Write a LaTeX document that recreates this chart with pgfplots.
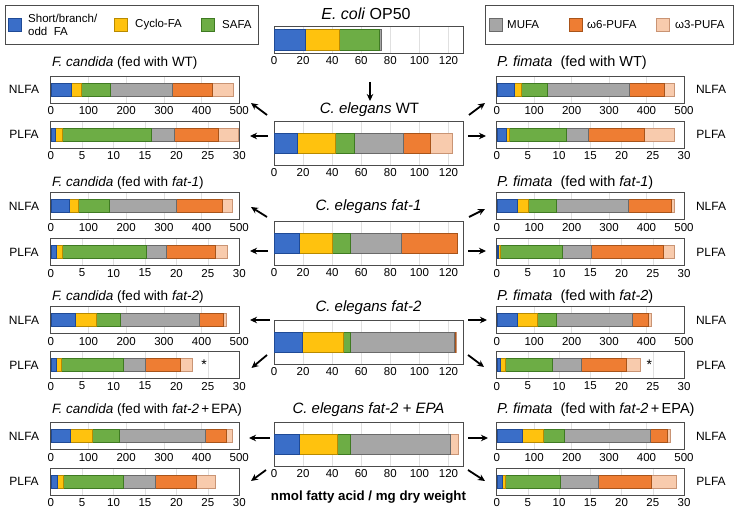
\documentclass[border=0pt]{standalone}
\usepackage{fontspec}
\setmainfont{Liberation Sans}
\usepackage{pgfplots}
\pgfplotsset{compat=1.18}
\usetikzlibrary{arrows.meta}
\definecolor{cB}{HTML}{3A6EC8}
\definecolor{cBd}{HTML}{1F4A96}
\definecolor{cY}{HTML}{FFC20E}
\definecolor{cYd}{HTML}{B88A00}
\definecolor{cG}{HTML}{6DAD45}
\definecolor{cGd}{HTML}{3F7A22}
\definecolor{cM}{HTML}{A6A6A6}
\definecolor{cMd}{HTML}{6A6A6A}
\definecolor{cO}{HTML}{EE7D33}
\definecolor{cOd}{HTML}{A8541A}
\definecolor{cP}{HTML}{F8CBAD}
\definecolor{cPd}{HTML}{C99474}
\pgfplotscreateplotcyclelist{fa}{
 {fill=cB,draw=cBd},{fill=cY,draw=cYd},{fill=cG,draw=cGd},{fill=cM,draw=cMd},{fill=cO,draw=cOd},{fill=cP,draw=cPd}}
\pgfplotsset{
 fabase/.style={scale only axis, xbar stacked, anchor=north west,
   ymin=-0.5, ymax=0.5, ytick=\empty, xmin=0,
   cycle list name=fa,
   axis line style={draw=black!70,line width=0.8pt},
   xmajorgrids, grid style={black!12,line width=0.5pt},
   major tick length=0pt,
   tick label style={font=\fontsize{11.5}{13}\selectfont},
   /pgf/number format/assume math mode=true,
   clip=false},
 nl/.style={fabase,height=27pt,bar width=13pt,xmax=500,xtick={0,100,...,500}},
 pl/.style={fabase,height=27pt,bar width=13pt,xmax=30,xtick={0,5,...,30}},
 ce/.style={fabase,width=189pt,height=44pt,bar width=20pt,xmax=130,xtick={0,20,...,120}},
 L/.style={width=188.6pt},
 R/.style={width=187.3pt},
}
\tikzset{ar/.style={line width=1.8pt,-{Stealth[length=7pt,width=6.5pt]}},
 ttl/.style={font=\fontsize{15}{17}\selectfont,inner sep=0pt},
 ttlL/.style={font=\fontsize{13.5}{16}\selectfont,inner sep=0pt,anchor=west},
 ttlR/.style={font=\fontsize{14.5}{17}\selectfont,inner sep=0pt,anchor=west},
 lab/.style={font=\fontsize{12}{13}\selectfont,inner sep=0pt},
 leg/.style={font=\fontsize{11.5}{13}\selectfont,inner sep=0pt,anchor=west,align=left}}
\begin{document}
\begin{tikzpicture}[x=1pt,y=1pt]
\useasboundingbox (0,0) rectangle (737,-510);
% legends
\draw[black!70,line width=0.8pt] (5,-5) rectangle (258,-44);
\draw[cBd,fill=cB] (8,-18) rectangle (21,-31);
\node[leg] at (28,-24.5) {Short/branch/\\odd\ \ FA};
\draw[cYd,fill=cY] (114,-18) rectangle (127,-31);
\node[leg] at (135,-24.5) {Cyclo-FA};
\draw[cGd,fill=cG] (201,-18) rectangle (214,-31);
\node[leg] at (222,-24.5) {SAFA};
\draw[black!70,line width=0.8pt] (485,-5) rectangle (733,-44);
\draw[cMd,fill=cM] (489,-18) rectangle (502,-31);
\node[leg] at (507,-24.5) {MUFA};
\draw[cOd,fill=cO] (569,-18) rectangle (582,-31);
\node[leg] at (587,-24.5) {ω6-PUFA};
\draw[cPd,fill=cP] (656,-18) rectangle (669,-31);
\node[leg] at (675,-24.5) {ω3-PUFA};

% ---------- center column ----------
\node[ttl,font=\fontsize{16}{18}\selectfont] at (366,-14) {\textit{E. coli} OP50};
\begin{axis}[ce,height=27pt,bar width=21pt,at={(274pt,-26pt)}]
\addplot coordinates {(21.3,0)};
\addplot coordinates {(23.3,0)};
\addplot coordinates {(28.1,0)};
\addplot coordinates {(1.1,0)};
\addplot coordinates {(0,0)};
\addplot coordinates {(0,0)};
\end{axis}
\node[ttl] at (369.5,-110) {\textit{C. elegans} WT};
\begin{axis}[ce,at={(274pt,-121pt)}]
\addplot coordinates {(16.2,0)};
\addplot coordinates {(25.9,0)};
\addplot coordinates {(13.0,0)};
\addplot coordinates {(33.6,0)};
\addplot coordinates {(18.7,0)};
\addplot coordinates {(15.1,0)};
\end{axis}
\node[ttl] at (368.5,-207) {\textit{C. elegans fat-1}};
\begin{axis}[ce,at={(274pt,-221pt)}]
\addplot coordinates {(17.4,0)};
\addplot coordinates {(22.6,0)};
\addplot coordinates {(12.3,0)};
\addplot coordinates {(35.2,0)};
\addplot coordinates {(38.2,0)};
\addplot coordinates {(0.3,0)};
\end{axis}
\node[ttl] at (368.5,-308) {\textit{C. elegans fat-2}};
\begin{axis}[ce,at={(274pt,-320pt)}]
\addplot coordinates {(19.2,0)};
\addplot coordinates {(28.1,0)};
\addplot coordinates {(4.8,0)};
\addplot coordinates {(72.0,0)};
\addplot coordinates {(0.8,0)};
\addplot coordinates {(0.4,0)};
\end{axis}
\node[ttl] at (368.5,-410) {\textit{C. elegans fat-2 + EPA}};
\begin{axis}[ce,at={(274pt,-422pt)}]
\addplot coordinates {(17.4,0)};
\addplot coordinates {(25.8,0)};
\addplot coordinates {(9.0,0)};
\addplot coordinates {(68.7,0)};
\addplot coordinates {(0.3,0)};
\addplot coordinates {(5.2,0)};
\end{axis}
\node[font=\bfseries\fontsize{13.3}{15}\selectfont] at (368.5,-497) {nmol fatty acid / mg dry weight};

% ---------- row WT ----------
\node[ttlL] at (52,-63) {\textit{F. candida} (fed with WT)};
\node[ttlR] at (497,-63) {\textit{P. fimata}\ \ (fed with WT)};
\begin{axis}[nl,L,at={(50.7pt,-76pt)}]
\addplot coordinates {(55,0)};
\addplot coordinates {(26,0)};
\addplot coordinates {(76,0)};
\addplot coordinates {(164,0)};
\addplot coordinates {(107,0)};
\addplot coordinates {(56,0)};
\end{axis}
\begin{axis}[pl,L,at={(50.7pt,-121pt)}]
\addplot coordinates {(0.75,0)};
\addplot coordinates {(1.05,0)};
\addplot coordinates {(14.2,0)};
\addplot coordinates {(3.7,0)};
\addplot coordinates {(6.9,0)};
\addplot coordinates {(3.2,0)};
\end{axis}
\begin{axis}[nl,R,at={(496.7pt,-76pt)}]
\addplot coordinates {(47,0)};
\addplot coordinates {(18,0)};
\addplot coordinates {(71,0)};
\addplot coordinates {(218,0)};
\addplot coordinates {(93,0)};
\addplot coordinates {(27,0)};
\end{axis}
\begin{axis}[pl,R,at={(496.7pt,-121pt)}]
\addplot coordinates {(1.6,0)};
\addplot coordinates {(0.43,0)};
\addplot coordinates {(9.07,0)};
\addplot coordinates {(3.6,0)};
\addplot coordinates {(8.9,0)};
\addplot coordinates {(4.8,0)};
\end{axis}

% ---------- row fat-1 ----------
\node[ttlL] at (52,-183) {\textit{F. candida} (fed with \textit{fat-1})};
\node[ttlR] at (497,-183) {\textit{P. fimata}\ \ (fed with \textit{fat-1})};
\begin{axis}[nl,L,at={(50.7pt,-192.5pt)}]
\addplot coordinates {(48.6,0)};
\addplot coordinates {(25.6,0)};
\addplot coordinates {(79.7,0)};
\addplot coordinates {(179,0)};
\addplot coordinates {(122,0)};
\addplot coordinates {(25.6,0)};
\end{axis}
\begin{axis}[pl,L,at={(50.7pt,-238.5pt)}]
\addplot coordinates {(0.9,0)};
\addplot coordinates {(0.9,0)};
\addplot coordinates {(13.4,0)};
\addplot coordinates {(3.2,0)};
\addplot coordinates {(7.7,0)};
\addplot coordinates {(2.05,0)};
\end{axis}
\begin{axis}[nl,R,at={(496.7pt,-192.5pt)}]
\addplot coordinates {(56,0)};
\addplot coordinates {(28.5,0)};
\addplot coordinates {(74,0)};
\addplot coordinates {(193,0)};
\addplot coordinates {(115.6,0)};
\addplot coordinates {(7,0)};
\end{axis}
\begin{axis}[pl,R,at={(496.7pt,-238.5pt)}]
\addplot coordinates {(0.27,0)};
\addplot coordinates {(0.37,0)};
\addplot coordinates {(9.8,0)};
\addplot coordinates {(4.7,0)};
\addplot coordinates {(11.5,0)};
\addplot coordinates {(1.8,0)};
\end{axis}

% ---------- row fat-2 ----------
\node[ttlL] at (52,-297) {\textit{F. candida} (fed with \textit{fat-2})};
\node[ttlR] at (497,-297) {\textit{P. fimata}\ \ (fed with \textit{fat-2})};
\begin{axis}[nl,L,at={(50.7pt,-306.5pt)}]
\addplot coordinates {(66,0)};
\addplot coordinates {(55,0)};
\addplot coordinates {(64.5,0)};
\addplot coordinates {(207.5,0)};
\addplot coordinates {(64,0)};
\addplot coordinates {(8.5,0)};
\end{axis}
\begin{axis}[pl,L,at={(50.7pt,-351.5pt)}]
\addplot coordinates {(0.8,0)};
\addplot coordinates {(0.9,0)};
\addplot coordinates {(9.9,0)};
\addplot coordinates {(3.4,0)};
\addplot coordinates {(5.55,0)};
\addplot coordinates {(1.97,0)};
\node[font=\fontsize{14}{16}\selectfont] at (axis cs:24.4,0) {*};
\end{axis}
\begin{axis}[nl,R,at={(496.7pt,-306.5pt)}]
\addplot coordinates {(55,0)};
\addplot coordinates {(53.5,0)};
\addplot coordinates {(51.5,0)};
\addplot coordinates {(203,0)};
\addplot coordinates {(42,0)};
\addplot coordinates {(8,0)};
\end{axis}
\begin{axis}[pl,R,at={(496.7pt,-351.5pt)}]
\addplot coordinates {(0.64,0)};
\addplot coordinates {(0.7,0)};
\addplot coordinates {(7.6,0)};
\addplot coordinates {(4.65,0)};
\addplot coordinates {(7.1,0)};
\addplot coordinates {(2.25,0)};
\node[font=\fontsize{14}{16}\selectfont] at (axis cs:24.45,0) {*};
\end{axis}

% ---------- row fat-2 + EPA ----------
\node[ttlL] at (52,-410) {\textit{F. candida} (fed with \textit{fat-2}\,+\,EPA)};
\node[ttlR] at (497,-410) {\textit{P. fimata}\ \ (fed with \textit{fat-2}\,+\,EPA)};
\begin{axis}[nl,L,at={(50.7pt,-422.5pt)}]
\addplot coordinates {(52,0)};
\addplot coordinates {(59,0)};
\addplot coordinates {(70,0)};
\addplot coordinates {(229,0)};
\addplot coordinates {(56,0)};
\addplot coordinates {(14,0)};
\end{axis}
\begin{axis}[pl,L,at={(50.7pt,-468pt)}]
\addplot coordinates {(1.1,0)};
\addplot coordinates {(0.9,0)};
\addplot coordinates {(9.6,0)};
\addplot coordinates {(5.0,0)};
\addplot coordinates {(6.6,0)};
\addplot coordinates {(3.0,0)};
\end{axis}
\begin{axis}[nl,R,at={(496.7pt,-422.5pt)}]
\addplot coordinates {(67,0)};
\addplot coordinates {(57,0)};
\addplot coordinates {(56,0)};
\addplot coordinates {(229,0)};
\addplot coordinates {(45,0)};
\addplot coordinates {(10,0)};
\end{axis}
\begin{axis}[pl,R,at={(496.7pt,-468pt)}]
\addplot coordinates {(0.83,0)};
\addplot coordinates {(0.6,0)};
\addplot coordinates {(8.8,0)};
\addplot coordinates {(5.96,0)};
\addplot coordinates {(8.5,0)};
\addplot coordinates {(4.1,0)};
\end{axis}

% side labels
\foreach \y in {89.5,206,320,436} {\node[lab] at (24,-\y) {NLFA}; \node[lab] at (711,-\y) {NLFA};}
\foreach \y in {134.5,252,365,481.5} {\node[lab] at (24,-\y) {PLFA}; \node[lab] at (711,-\y) {PLFA};}

% arrows
\draw[ar] (370,-82) -- (370,-101);
\draw[ar] (267,-115) -- (251,-103);
\draw[ar] (268,-136) -- (250,-136);
\draw[ar] (469,-115) -- (485,-103);
\draw[ar] (468,-136) -- (486,-136);
\draw[ar] (267,-217) -- (251,-207);
\draw[ar] (268,-251) -- (250,-251);
\draw[ar] (469,-217) -- (485,-209);
\draw[ar] (468,-251) -- (486,-251);
\draw[ar] (270,-320) -- (250,-320);
\draw[ar] (267,-355) -- (251.5,-368);
\draw[ar] (468,-320) -- (487,-320);
\draw[ar] (468,-355) -- (484,-367);
\draw[ar] (270,-438) -- (249,-438);
\draw[ar] (266,-470) -- (251,-481);
\draw[ar] (468,-438) -- (488,-438);
\draw[ar] (468,-470) -- (485,-481);
\end{tikzpicture}
\end{document}
